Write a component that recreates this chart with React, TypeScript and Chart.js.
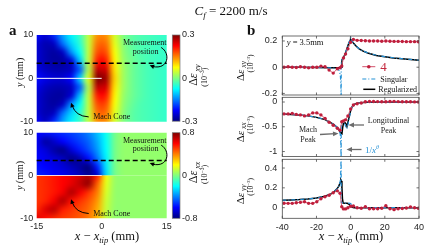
import React, { useEffect, useRef } from 'react';
import { Chart, registerables } from 'chart.js';

Chart.register(...registerables);

const W = 433;
const H = 251;
const SERIF = '"Liberation Serif", "Times New Roman", serif';
const SANS = '"Liberation Sans", Arial, sans-serif';
const TICK_FONT = { family: SANS, size: 9 };
const TICK_COLOR = '#262626';

// ================= Panel a : strain fields =================
const MAP_X = [-15, -13, -11, -9, -7, -5, -3, -1, 1, 3, 5, 7, 9, 11, 13, 15];
const XY_MAP_Y = [10, 8, 6, 4, 2, 0, -2, -4, -6, -8, -10];
const XY_MAP = [
  [-0.22, -0.25, -0.2, -0.13, -0.08, -0.04, 0.04, 0.14, 0.14, 0.05, 0.0, -0.02, -0.03, -0.035, -0.04, -0.045],
  [-0.25, -0.27, -0.26, -0.16, -0.1, -0.05, 0.04, 0.16, 0.16, 0.06, 0.005, -0.02, -0.03, -0.035, -0.04, -0.045],
  [-0.25, -0.27, -0.28, -0.26, -0.14, -0.07, 0.04, 0.18, 0.18, 0.07, 0.01, -0.015, -0.03, -0.035, -0.04, -0.045],
  [-0.25, -0.27, -0.28, -0.28, -0.25, -0.11, 0.04, 0.21, 0.21, 0.08, 0.015, -0.01, -0.025, -0.035, -0.04, -0.045],
  [-0.24, -0.26, -0.27, -0.27, -0.26, -0.17, 0.03, 0.26, 0.25, 0.09, 0.02, -0.01, -0.025, -0.035, -0.04, -0.045],
  [-0.22, -0.24, -0.25, -0.25, -0.22, -0.1, 0.06, 0.3, 0.28, 0.1, 0.02, -0.01, -0.025, -0.035, -0.04, -0.045],
  [-0.24, -0.26, -0.27, -0.27, -0.26, -0.17, 0.03, 0.26, 0.25, 0.09, 0.02, -0.01, -0.025, -0.035, -0.04, -0.045],
  [-0.25, -0.27, -0.28, -0.28, -0.25, -0.11, 0.04, 0.21, 0.21, 0.08, 0.015, -0.01, -0.025, -0.035, -0.04, -0.045],
  [-0.25, -0.27, -0.28, -0.26, -0.14, -0.07, 0.04, 0.18, 0.18, 0.07, 0.01, -0.015, -0.03, -0.035, -0.04, -0.045],
  [-0.25, -0.27, -0.26, -0.16, -0.1, -0.05, 0.04, 0.16, 0.16, 0.06, 0.005, -0.02, -0.03, -0.035, -0.04, -0.045],
  [-0.23, -0.26, -0.2, -0.13, -0.08, -0.04, 0.04, 0.14, 0.14, 0.05, 0.0, -0.02, -0.03, -0.035, -0.04, -0.045],
];
const XX_UPPER_Y = [10, 8, 6, 4, 2, 0];
const XX_UPPER = [
  [-0.6, -0.58, -0.56, -0.53, -0.5, -0.46, -0.4, -0.3, -0.18, -0.02, 0.03, 0.03, 0.03, 0.03, 0.03, 0.03],
  [-0.62, -0.74, -0.68, -0.6, -0.55, -0.5, -0.44, -0.33, -0.19, -0.02, 0.03, 0.03, 0.03, 0.03, 0.03, 0.03],
  [-0.62, -0.66, -0.74, -0.78, -0.66, -0.56, -0.48, -0.36, -0.2, -0.02, 0.03, 0.03, 0.03, 0.03, 0.03, 0.03],
  [-0.6, -0.63, -0.66, -0.7, -0.78, -0.72, -0.58, -0.42, -0.22, -0.02, 0.03, 0.03, 0.03, 0.03, 0.03, 0.03],
  [-0.58, -0.6, -0.63, -0.66, -0.7, -0.75, -0.8, -0.55, -0.24, -0.02, 0.03, 0.03, 0.03, 0.03, 0.03, 0.03],
  [-0.55, -0.57, -0.6, -0.62, -0.66, -0.7, -0.76, -0.68, -0.26, -0.02, 0.03, 0.03, 0.03, 0.03, 0.03, 0.03],
];
const XX_LOWER_Y = [0, -2, -4, -6, -8, -10];
const XX_LOWER = [
  [0.52, 0.54, 0.57, 0.6, 0.63, 0.67, 0.72, 0.55, 0.18, 0.04, 0.03, 0.03, 0.03, 0.03, 0.03, 0.03],
  [0.52, 0.54, 0.57, 0.6, 0.64, 0.7, 0.76, 0.45, 0.16, 0.04, 0.03, 0.03, 0.03, 0.03, 0.03, 0.03],
  [0.52, 0.54, 0.57, 0.62, 0.72, 0.62, 0.52, 0.4, 0.14, 0.035, 0.03, 0.03, 0.03, 0.03, 0.03, 0.03],
  [0.52, 0.55, 0.62, 0.72, 0.58, 0.52, 0.46, 0.36, 0.12, 0.035, 0.03, 0.03, 0.03, 0.03, 0.03, 0.03],
  [0.54, 0.65, 0.7, 0.56, 0.52, 0.48, 0.43, 0.33, 0.11, 0.03, 0.03, 0.03, 0.03, 0.03, 0.03, 0.03],
  [0.64, 0.58, 0.54, 0.51, 0.49, 0.46, 0.41, 0.31, 0.1, 0.03, 0.03, 0.03, 0.03, 0.03, 0.03, 0.03],
];
const MEAS_Y = 3.5;
const CRACK_X = [-15, 0];
const MAP_X_TICKS = [-15, 0, 15];
const MAP_Y_TICKS = [-10, 0, 10];
const CB_XY_TICKS = [-0.3, 0, 0.3];
const CB_XX_TICKS = [-0.8, 0, 0.8];

// ================= Panel b : line profiles =================
const B_X_TICKS = [-40, -20, 0, 20, 40];
const XY_TICKS = [-0.2, 0, 0.2];
const XX_TICKS = [-1, -0.5, 0];
const YY_TICKS = [0, 0.2, 0.4];

const RED_X = [-39, -36.6, -34.2, -31.8, -29.4, -27, -24.6, -22.2, -19.8, -17.4, -15, -12.6, -10.2, -7.8, -6.2, -5.2, -4.2, -3, -1.6, 0, 1.6, 3.8, 6.2, 8.6, 11, 13.4, 15.8, 18.2, 20.6, 23, 25.4, 27.8, 30.2, 32.6, 35, 37.4, 39.6];
const RED_XY = [0, 0.003, 0, -0.002, 0.003, 0, -0.005, 0, 0, 0.008, 0.004, -0.022, -0.045, -0.012, -0.004, 0.01, 0.07, 0.1, 0.14, 0.19, 0.212, 0.205, 0.204, 0.202, 0.2, 0.2, 0.2, 0.198, 0.2, 0.198, 0.197, 0.197, 0.196, 0.195, 0.195, 0.195, 0.194];
const RED_XX = [-0.24, -0.24, -0.23, -0.25, -0.26, -0.28, -0.26, -0.22, -0.22, -0.26, -0.33, -0.41, -0.47, -0.53, -0.57, -0.4, -0.38, -0.36, -0.28, -0.14, -0.06, -0.035, -0.02, 0.005, 0.01, 0.01, 0.008, 0.006, 0.006, 0.01, 0.012, 0.008, 0.006, 0.004, 0.004, 0.002, 0];
const RED_YY = [0.045, 0.044, 0.044, 0.05, 0.054, 0.06, 0.044, 0.044, 0.06, 0.09, 0.11, 0.125, 0.15, 0.17, 0.145, 0.01, -0.012, -0.012, 0, 0.015, 0.017, 0, -0.005, 0.01, -0.01, -0.01, -0.01, -0.005, 0.02, -0.01, -0.02, -0.01, -0.008, -0.003, 0.008, 0, -0.005];

const REG_XY_X = [-40, -30, -20, -12, -8, -6.5, -5.6, -5.1, -4.2, -3.2, -2.2, -1.3, -0.3, 0, 0.5, 1, 2, 3, 5, 7, 10, 15, 20, 25, 30, 35, 40];
const REG_XY = [0, 0, -0.002, -0.004, -0.005, -0.003, 0, 0.055, 0.075, 0.1, 0.14, 0.175, 0.205, 0.212, 0.205, 0.195, 0.178, 0.163, 0.14, 0.124, 0.108, 0.09, 0.08, 0.071, 0.064, 0.058, 0.053];
const SING_XY_X = [-40, -30, -20, -12, -9, -7.5, -6.8, -6.3, -6, -5.8, -5.65, -5.56, -5.5, -5.1, -4.2, -3.2, -2.2, -1.3, -0.3, 0, 0.5, 1, 2, 3, 5, 7, 10, 15, 20, 25, 30, 35, 40];
const SING_XY = [0, 0, -0.002, -0.005, -0.008, -0.014, -0.025, -0.045, -0.07, -0.11, -0.17, -0.35, 0.04, 0.055, 0.075, 0.1, 0.14, 0.178, 0.212, 0.228, 0.21, 0.197, 0.179, 0.164, 0.141, 0.125, 0.109, 0.091, 0.081, 0.072, 0.065, 0.059, 0.054];

const REG_XX_X = [-40, -35, -30, -25, -20, -15, -12, -10, -8, -7, -6.2, -5.6, -5.1, -4.6, -4.2, -3.2, -2.5, -2.2, -1.8, -1.3, -0.5, 0.1, 0.8, 1.7, 2.6, 3.6, 5, 7.5, 10, 15, 20, 30, 40];
const REG_XX = [-0.24, -0.25, -0.26, -0.28, -0.31, -0.355, -0.41, -0.45, -0.51, -0.55, -0.6, -0.63, -0.64, -0.5, -0.43, -0.42, -0.45, -0.47, -0.44, -0.36, -0.25, -0.16, -0.1, -0.06, -0.04, -0.03, -0.02, -0.01, -0.005, 0, 0, 0, 0];
const SING_XX_X = [-40, -35, -30, -25, -20, -15, -12, -10, -8, -7, -6.5, -6.1, -5.85, -5.7, -5.6, -5.5, -5.1, -4.6, -4.2, -3.5, -3, -2.6, -2.2, -1.8, -1.3, -0.5, 0.1, 0.8, 1.7, 2.6, 3.6, 5, 7.5, 10, 15, 20, 30, 40];
const SING_XX = [-0.24, -0.25, -0.26, -0.28, -0.31, -0.355, -0.41, -0.45, -0.51, -0.55, -0.59, -0.65, -0.74, -0.88, -1.3, -0.44, -0.43, -0.42, -0.42, -0.44, -0.48, -0.52, -0.54, -0.5, -0.4, -0.27, -0.17, -0.1, -0.06, -0.04, -0.03, -0.02, -0.01, -0.005, 0, 0, 0, 0];

const REG_YY_X = [-40, -35, -30, -25, -20, -15, -12, -10, -8, -7, -6.2, -5.7, -5.4, -5.1, -4.8, -4.4, -3, -2, -1, 0, 1, 2, 3, 5, 10, 20, 30, 40];
const REG_YY = [0.075, 0.078, 0.082, 0.088, 0.097, 0.115, 0.135, 0.155, 0.19, 0.215, 0.25, 0.28, 0.27, 0.2, 0.09, 0.048, 0.046, 0.045, 0.035, 0.015, 0.005, 0, 0, 0, 0, 0, 0, 0];
const SING_YY_X = [-40, -35, -30, -25, -20, -15, -12, -10, -8, -7, -6.5, -6.1, -5.85, -5.7, -5.6, -5.5, -5.1, -4.4, -3, -2, -1, 0, 0.6, 1.2, 2, 3, 5, 10, 20, 30, 40];
const SING_YY = [0.075, 0.078, 0.082, 0.088, 0.097, 0.115, 0.135, 0.155, 0.19, 0.215, 0.235, 0.27, 0.33, 0.42, 0.7, 0.05, 0.05, 0.048, 0.047, 0.047, 0.046, 0.042, 0.03, 0.012, 0.003, 0, 0, 0, 0, 0, 0];

const RED_DOT = '#bf1e3c';
const RED_LINE = '#d2506a';
const BLUE = '#2391d6';
const ARROW_GRAY = '#6b6b6b';

// ================= helpers =================
function jet(t: number): [number, number, number] {
  const c = (v: number) => Math.max(0, Math.min(1, v));
  return [c(1.5 - Math.abs(4 * t - 3)), c(1.5 - Math.abs(4 * t - 2)), c(1.5 - Math.abs(4 * t - 1))];
}
function jetCss(t: number) {
  const [r, g, b] = jet(t);
  return `rgb(${Math.round(r * 255)},${Math.round(g * 255)},${Math.round(b * 255)})`;
}

type Part = { t: string; f: string; dy?: number; c?: string };
function rich(ctx: any, parts: Part[], x: number, y: number, align: string = 'left', rot = 0, color = '#111') {
  ctx.save();
  ctx.translate(x, y);
  if (rot) ctx.rotate(rot);
  ctx.textBaseline = 'alphabetic';
  ctx.textAlign = 'left';
  let total = 0;
  const widths = parts.map((p) => {
    ctx.font = p.f;
    const w = ctx.measureText(p.t).width;
    total += w;
    return w;
  });
  let cx = align === 'left' ? 0 : align === 'center' ? -total / 2 : -total;
  parts.forEach((p, i) => {
    ctx.font = p.f;
    ctx.fillStyle = p.c || color;
    ctx.fillText(p.t, cx, p.dy || 0);
    cx += widths[i];
  });
  ctx.restore();
}

function head(ctx: any, tipX: number, tipY: number, fromX: number, fromY: number, len = 4.5, half = 2) {
  const a = Math.atan2(tipY - fromY, tipX - fromX);
  ctx.beginPath();
  ctx.moveTo(tipX, tipY);
  ctx.lineTo(tipX - len * Math.cos(a) - half * Math.sin(a), tipY - len * Math.sin(a) + half * Math.cos(a));
  ctx.lineTo(tipX - len * Math.cos(a) + half * Math.sin(a), tipY - len * Math.sin(a) - half * Math.cos(a));
  ctx.closePath();
  ctx.fill();
}

function straightArrow(ctx: any, x1: number, y1: number, x2: number, y2: number, color: string) {
  ctx.save();
  ctx.strokeStyle = color;
  ctx.fillStyle = color;
  ctx.lineWidth = 1.3;
  const a = Math.atan2(y2 - y1, x2 - x1);
  ctx.beginPath();
  ctx.moveTo(x1, y1);
  ctx.lineTo(x2 - 3 * Math.cos(a), y2 - 3 * Math.sin(a));
  ctx.stroke();
  head(ctx, x2, y2, x1, y1, 5.5, 2.4);
  ctx.restore();
}

function drawGrid(chart: any, xs: number[], ys: number[], grid: number[][], vmin: number, vmax: number, yTop: number, yBot: number) {
  const { ctx, chartArea: ca, scales } = chart;
  const sx = scales.x;
  const sy = scales.y;
  const nx = xs.length;
  const ny = ys.length;
  const off = document.createElement('canvas');
  off.width = nx;
  off.height = ny;
  const octx = off.getContext('2d') as CanvasRenderingContext2D;
  const img = octx.createImageData(nx, ny);
  for (let j = 0; j < ny; j++) {
    for (let i = 0; i < nx; i++) {
      const [r, g, b] = jet((grid[j][i] - vmin) / (vmax - vmin));
      const k = (j * nx + i) * 4;
      img.data[k] = Math.round(r * 255);
      img.data[k + 1] = Math.round(g * 255);
      img.data[k + 2] = Math.round(b * 255);
      img.data[k + 3] = 255;
    }
  }
  octx.putImageData(img, 0, 0);
  const dx = xs[1] - xs[0];
  const dy = ys[0] - ys[1];
  const L = sx.getPixelForValue(xs[0] - dx / 2);
  const R = sx.getPixelForValue(xs[nx - 1] + dx / 2);
  const T = sy.getPixelForValue(ys[0] + dy / 2);
  const B = sy.getPixelForValue(ys[ny - 1] - dy / 2);
  const cT = sy.getPixelForValue(yTop);
  const cB = sy.getPixelForValue(yBot);
  ctx.save();
  ctx.beginPath();
  ctx.rect(ca.left, cT, ca.right - ca.left, cB - cT);
  ctx.clip();
  ctx.imageSmoothingEnabled = true;
  ctx.imageSmoothingQuality = 'high';
  ctx.drawImage(off, L, T, R - L, B - T);
  ctx.restore();
}

const hiddenGrid = { display: false, drawTicks: false };
const tickSetter = (vals: number[]) => (s: any) => {
  s.ticks = vals.map((v) => ({ value: v }));
};
const tickOpts = (pad: number) => ({
  font: TICK_FONT,
  color: TICK_COLOR,
  padding: pad,
  autoSkip: false,
  maxRotation: 0,
  callback: (v: any) => String(v),
});

const xTitleParts = (): Part[] => [
  { t: 'x', f: `italic 12.5px ${SERIF}` },
  { t: ' \u2212 ', f: `12.5px ${SERIF}` },
  { t: 'x', f: `italic 12.5px ${SERIF}` },
  { t: 'tip', f: `italic 8.5px ${SERIF}`, dy: 3 },
  { t: ' (mm)', f: `12.5px ${SERIF}` },
];

// ================= Panel a charts =================
function mapPlugin(kind: string) {
  return {
    id: 'map_' + kind,
    beforeDatasetsDraw(chart: any) {
      if (kind === 'xy') {
        drawGrid(chart, MAP_X, XY_MAP_Y, XY_MAP, -0.3, 0.3, 10, -10);
      } else {
        drawGrid(chart, MAP_X, XX_UPPER_Y, XX_UPPER, -0.8, 0.8, 10, 0);
        drawGrid(chart, MAP_X, XX_LOWER_Y, XX_LOWER, -0.8, 0.8, 0, -10);
      }
    },
    afterDraw(chart: any) {
      const { ctx, chartArea: ca, scales } = chart;
      const sx = scales.x;
      const sy = scales.y;
      ctx.save();
      const y0 = sy.getPixelForValue(0);
      ctx.strokeStyle = kind === 'xy' ? '#ffffff' : 'rgba(255,235,235,0.9)';
      ctx.lineWidth = 1;
      ctx.beginPath();
      ctx.moveTo(sx.getPixelForValue(CRACK_X[0]), y0);
      ctx.lineTo(sx.getPixelForValue(CRACK_X[1]), y0);
      ctx.stroke();
      const ym = sy.getPixelForValue(MEAS_Y);
      ctx.strokeStyle = '#000';
      ctx.lineWidth = 1.5;
      ctx.setLineDash([5, 3]);
      ctx.beginPath();
      ctx.moveTo(ca.left, ym);
      ctx.lineTo(ca.right, ym);
      ctx.stroke();
      ctx.setLineDash([]);
      const sf = `8px ${SERIF}`;
      rich(ctx, [{ t: 'Measurement', f: sf }], ca.right - 22, ca.top + 10, 'center');
      rich(ctx, [{ t: 'position', f: sf }], ca.right - 21, ca.top + 18.5, 'center');
      ctx.strokeStyle = '#000';
      ctx.fillStyle = '#000';
      ctx.lineWidth = 1;
      ctx.beginPath();
      ctx.moveTo(ca.right - 5.5, ca.top + 12.5);
      ctx.bezierCurveTo(ca.right + 4, ca.top + 18, ca.right + 2, ca.top + 35, ca.right - 14, ca.top + 31.5);
      ctx.stroke();
      head(ctx, ca.right - 17, ca.top + 30.3, ca.right - 11, ca.top + 32.5, 4.5, 2.2);
      rich(ctx, [{ t: 'Mach Cone', f: sf }], ca.left + 75, ca.bottom - 2.3, 'center');
      ctx.beginPath();
      ctx.moveTo(ca.left + 52, ca.bottom - 4.8);
      ctx.quadraticCurveTo(ca.left + 39, ca.bottom - 5.5, ca.left + 35.5, ca.bottom - 16);
      ctx.stroke();
      head(ctx, ca.left + 34.3, ca.bottom - 19, ca.left + 36.5, ca.bottom - 13, 4.5, 2.2);
      const yc = (ca.top + ca.bottom) / 2 - (kind === 'xy' ? 6 : 0);
      rich(ctx, [{ t: 'y', f: `italic 10px ${SERIF}` }, { t: ' (mm)', f: `10px ${SERIF}` }], 22.5, yc, 'center', -Math.PI / 2);
      if (kind === 'xy') {
        rich(ctx, [{ t: 'a', f: `bold 15px ${SERIF}` }], 9, 35, 'left');
        rich(
          ctx,
          [
            { t: 'C', f: `italic 13px ${SERIF}` },
            { t: 'f', f: `italic 9px ${SERIF}`, dy: 3 },
            { t: ' = 2200 m/s', f: `13px ${SERIF}` },
          ],
          231,
          15,
          'center'
        );
      } else {
        rich(ctx, xTitleParts(), 107, 240, 'center');
      }
      ctx.restore();
    },
  };
}

function makeMap(kind: string) {
  const top = kind === 'xy' ? 35 : 132.7;
  const bottom = kind === 'xy' ? 121.7 : 218.3;
  const left = 36.7;
  const right = 166.7;
  const yW = 36.7;
  const xH = kind === 'xy' ? 0 : 14;
  return {
    type: 'scatter',
    data: { datasets: [] },
    options: {
      responsive: false,
      animation: false,
      devicePixelRatio: 1,
      layout: { padding: { left: left - yW, top, right: W - right, bottom: H - bottom - xH } },
      plugins: { legend: { display: false }, tooltip: { enabled: false } },
      scales: {
        x: {
          type: 'linear',
          min: -15,
          max: 15,
          display: kind === 'xx',
          afterFit: (s: any) => {
            s.height = xH;
          },
          afterBuildTicks: tickSetter(MAP_X_TICKS),
          grid: hiddenGrid,
          border: { display: false },
          ticks: tickOpts(2.5),
        },
        y: {
          type: 'linear',
          min: -10,
          max: 10,
          afterFit: (s: any) => {
            s.width = yW;
          },
          afterBuildTicks: tickSetter(MAP_Y_TICKS),
          grid: hiddenGrid,
          border: { display: false },
          ticks: tickOpts(3.5),
        },
      },
    },
    plugins: [mapPlugin(kind)],
  };
}

function makeBar(kind: string) {
  const top = kind === 'xy' ? 35 : 132.7;
  const bottom = kind === 'xy' ? 121.2 : 218.3;
  const left = 172.3;
  const right = 180;
  const yW = 25;
  const ticks = kind === 'xy' ? CB_XY_TICKS : CB_XX_TICKS;
  return {
    type: 'scatter',
    data: { datasets: [] },
    options: {
      responsive: false,
      animation: false,
      devicePixelRatio: 1,
      layout: { padding: { left, top, right: W - right - yW, bottom: H - bottom } },
      plugins: { legend: { display: false }, tooltip: { enabled: false } },
      scales: {
        x: { type: 'linear', min: 0, max: 1, display: false },
        y: {
          type: 'linear',
          position: 'right',
          min: ticks[0],
          max: ticks[2],
          afterFit: (s: any) => {
            s.width = yW;
          },
          afterBuildTicks: tickSetter(ticks),
          grid: hiddenGrid,
          border: { display: false },
          ticks: tickOpts(2),
        },
      },
    },
    plugins: [
      {
        id: 'cbar_' + kind,
        beforeDatasetsDraw(chart: any) {
          const { ctx, chartArea: ca, scales } = chart;
          const sy = scales.y;
          const yb = sy.getPixelForValue(ticks[0]);
          const yt = sy.getPixelForValue(ticks[2]);
          const g = ctx.createLinearGradient(0, yb, 0, yt);
          for (let i = 0; i <= 32; i++) g.addColorStop(i / 32, jetCss(i / 32));
          ctx.save();
          ctx.fillStyle = g;
          ctx.fillRect(ca.left, yt, ca.right - ca.left, yb - yt);
          ctx.strokeStyle = '#777';
          ctx.lineWidth = 0.7;
          ctx.strokeRect(ca.left, yt, ca.right - ca.left, yb - yt);
          ctx.restore();
        },
        afterDraw(chart: any) {
          const { ctx, chartArea: ca } = chart;
          const yc = (ca.top + ca.bottom) / 2;
          const sub = kind === 'xy' ? 'xy' : 'xx';
          rich(
            ctx,
            [
              { t: '\u0394', f: `12px ${SERIF}` },
              { t: '\u03b5', f: `italic 12px ${SERIF}` },
              { t: ' ' + sub, f: `italic 8px ${SERIF}`, dy: 3 },
            ],
            197,
            yc - 3,
            'center',
            -Math.PI / 2
          );
          rich(
            ctx,
            [
              { t: '(10', f: `8px ${SERIF}` },
              { t: '\u22123', f: `5.5px ${SERIF}`, dy: -3.5 },
              { t: ')', f: `8px ${SERIF}` },
            ],
            207,
            yc - 1,
            'center',
            -Math.PI / 2
          );
        },
      },
    ],
  };
}

// ================= Panel b charts =================
const pts = (xs: number[], ys: number[]) => xs.map((x, i) => ({ x, y: ys[i] }));
const redDs = (ys: number[]) => ({
  label: '4',
  data: pts(RED_X, ys),
  showLine: true,
  borderColor: RED_LINE,
  borderWidth: 0.9,
  pointRadius: 1.7,
  pointBackgroundColor: RED_DOT,
  pointBorderWidth: 0,
  order: 0,
  clip: 0,
});
const singDs = (xs: number[], ys: number[]) => ({
  label: 'Singular',
  data: pts(xs, ys),
  showLine: true,
  borderColor: BLUE,
  borderWidth: 1.2,
  borderDash: [4, 2, 1, 2],
  pointRadius: 0,
  order: 1,
  clip: 0,
});
const regDs = (xs: number[], ys: number[]) => ({
  label: 'Regularized',
  data: pts(xs, ys),
  showLine: true,
  borderColor: '#000',
  borderWidth: 1.5,
  pointRadius: 0,
  order: 2,
  clip: 0,
});

function frame(chart: any) {
  const { ctx, chartArea: ca, scales } = chart;
  const sx = scales.x;
  const sy = scales.y;
  ctx.save();
  ctx.strokeStyle = '#4a4a4a';
  ctx.lineWidth = 0.8;
  ctx.strokeRect(ca.left, ca.top, ca.right - ca.left, ca.bottom - ca.top);
  ctx.beginPath();
  for (const v of B_X_TICKS) {
    const px = sx.getPixelForValue(v);
    ctx.moveTo(px, ca.bottom);
    ctx.lineTo(px, ca.bottom - 2.5);
    ctx.moveTo(px, ca.top);
    ctx.lineTo(px, ca.top + 2.5);
  }
  for (const t of sy.ticks) {
    const py = sy.getPixelForValue(t.value);
    ctx.moveTo(ca.left, py);
    ctx.lineTo(ca.left + 2.5, py);
    ctx.moveTo(ca.right, py);
    ctx.lineTo(ca.right - 2.5, py);
  }
  ctx.stroke();
  ctx.restore();
}

function yLabel(ctx: any, ca: any, sub: string) {
  const yc = (ca.top + ca.bottom) / 2;
  rich(
    ctx,
    [
      { t: '\u0394', f: `11px ${SERIF}` },
      { t: '\u03b5', f: `italic 11px ${SERIF}` },
      { t: ' ' + sub, f: `italic 7.5px ${SERIF}`, dy: 2.5 },
    ],
    243.5,
    yc + 5.5,
    'center',
    -Math.PI / 2
  );
  rich(
    ctx,
    [
      { t: '(10', f: `7.5px ${SERIF}` },
      { t: '\u22123', f: `5px ${SERIF}`, dy: -3 },
      { t: ')', f: `7.5px ${SERIF}` },
    ],
    252.5,
    yc - 2,
    'center',
    -Math.PI / 2
  );
}

function makeLine(cfg: any) {
  const left = 282.3;
  const right = 419;
  const yW = 30;
  const xH = cfg.showX ? 14 : 0;
  return {
    type: 'scatter',
    data: { datasets: cfg.datasets },
    options: {
      responsive: false,
      animation: false,
      devicePixelRatio: 1,
      layout: { padding: { left: left - yW, top: cfg.top, right: W - right, bottom: H - cfg.bottom - xH } },
      plugins: { legend: { display: false }, tooltip: { enabled: false } },
      elements: { line: { tension: 0 } },
      scales: {
        x: {
          type: 'linear',
          min: -40,
          max: 40,
          display: cfg.showX,
          afterFit: (s: any) => {
            s.height = xH;
          },
          afterBuildTicks: tickSetter(B_X_TICKS),
          grid: hiddenGrid,
          border: { display: false },
          ticks: tickOpts(3.5),
        },
        y: {
          type: 'linear',
          min: cfg.yMin,
          max: cfg.yMax,
          afterFit: (s: any) => {
            s.width = yW;
          },
          afterBuildTicks: tickSetter(cfg.yTicks),
          grid: hiddenGrid,
          border: { display: false },
          ticks: tickOpts(5),
        },
      },
    },
    plugins: [
      {
        id: 'bplot',
        afterDraw(chart: any) {
          frame(chart);
          const { ctx, chartArea: ca } = chart;
          yLabel(ctx, ca, cfg.sub);
          cfg.draw(ctx, ca);
        },
      },
    ],
  };
}

const sf8 = `8px ${SERIF}`;

function makeLineXY() {
  return makeLine({
    top: 36,
    bottom: 95,
    yMin: -0.212,
    yMax: 0.238,
    yTicks: XY_TICKS,
    showX: false,
    sub: 'xy',
    datasets: [redDs(RED_XY), singDs(SING_XY_X, SING_XY), regDs(REG_XY_X, REG_XY)],
    draw(ctx: any, ca: any) {
      rich(ctx, [{ t: 'b', f: `bold 15px ${SERIF}` }], 247, 35, 'left');
      rich(ctx, [{ t: 'y', f: `italic 8.5px ${SERIF}` }, { t: ' = 3.5mm', f: `8.5px ${SERIF}` }], ca.left + 4.5, ca.top + 8.5, 'left');
      const lx0 = ca.left + 80;
      const lx1 = ca.left + 93;
      ctx.save();
      ctx.strokeStyle = RED_LINE;
      ctx.lineWidth = 1;
      ctx.beginPath();
      ctx.moveTo(lx0, ca.top + 30.7);
      ctx.lineTo(lx1, ca.top + 30.7);
      ctx.stroke();
      ctx.fillStyle = RED_DOT;
      ctx.beginPath();
      ctx.arc((lx0 + lx1) / 2, ca.top + 30.7, 1.8, 0, Math.PI * 2);
      ctx.fill();
      ctx.strokeStyle = BLUE;
      ctx.lineWidth = 1.2;
      ctx.setLineDash([4, 2, 1, 2]);
      ctx.beginPath();
      ctx.moveTo(lx0, ca.top + 43);
      ctx.lineTo(lx1, ca.top + 43);
      ctx.stroke();
      ctx.setLineDash([]);
      ctx.strokeStyle = '#000';
      ctx.lineWidth = 1.5;
      ctx.beginPath();
      ctx.moveTo(lx0 + 1, ca.top + 53.3);
      ctx.lineTo(lx1, ca.top + 53.3);
      ctx.stroke();
      ctx.restore();
      rich(ctx, [{ t: '4', f: `13px ${SERIF}`, c: '#c4283e' }], ca.left + 98, ca.top + 35, 'left');
      rich(ctx, [{ t: 'Singular', f: sf8 }], ca.left + 98, ca.top + 45.5, 'left');
      rich(ctx, [{ t: 'Regularized', f: sf8 }], ca.left + 96, ca.top + 56, 'left');
    },
  });
}

function makeLineXX() {
  return makeLine({
    top: 97.3,
    bottom: 156.5,
    yMin: -1.1,
    yMax: 0.095,
    yTicks: XX_TICKS,
    showX: false,
    sub: 'xx',
    datasets: [redDs(RED_XX), singDs(SING_XX_X, SING_XX), regDs(REG_XX_X, REG_XX)],
    draw(ctx: any) {
      rich(ctx, [{ t: 'Mach', f: sf8 }], 308, 131.5, 'center', 0, '#222');
      rich(ctx, [{ t: 'Peak', f: sf8 }], 308, 141.5, 'center', 0, '#222');
      straightArrow(ctx, 320, 134.5, 338.5, 133.5, ARROW_GRAY);
      rich(ctx, [{ t: 'Longitudinal', f: sf8 }], 388.5, 123, 'center', 0, '#222');
      rich(ctx, [{ t: 'Peak', f: sf8 }], 388.5, 132.5, 'center', 0, '#222');
      straightArrow(ctx, 364, 125, 348.5, 125, ARROW_GRAY);
      rich(
        ctx,
        [
          { t: '1/', f: `9px ${SERIF}`, c: BLUE },
          { t: 'x', f: `italic 9px ${SERIF}`, c: BLUE },
          { t: '\u03b8', f: `italic 6px ${SERIF}`, dy: -3.5, c: BLUE },
        ],
        365,
        152.5,
        'left'
      );
      straightArrow(ctx, 361.5, 149.5, 346.5, 149.5, ARROW_GRAY);
    },
  });
}

function makeLineYY() {
  return makeLine({
    top: 159.3,
    bottom: 218.3,
    yMin: -0.107,
    yMax: 0.488,
    yTicks: YY_TICKS,
    showX: true,
    sub: 'yy',
    datasets: [redDs(RED_YY), singDs(SING_YY_X, SING_YY), regDs(REG_YY_X, REG_YY)],
    draw(ctx: any) {
      rich(ctx, xTitleParts(), 351, 240, 'center');
    },
  });
}

function ChartCanvas({ make }: { make: () => any }) {
  const ref = useRef<HTMLCanvasElement>(null);
  useEffect(() => {
    const chart = new Chart(ref.current as HTMLCanvasElement, make());
    return () => chart.destroy();
  }, []);
  return (
    <canvas
      ref={ref}
      width={W}
      height={H}
      style={{ position: 'absolute', left: 0, top: 0, width: W, height: H }}
    />
  );
}

export default function App() {
  return (
    <div style={{ position: 'absolute', left: 0, top: 0, width: W, height: H, background: '#fff', overflow: 'hidden' }}>
      <ChartCanvas make={() => makeMap('xy')} />
      <ChartCanvas make={() => makeMap('xx')} />
      <ChartCanvas make={() => makeBar('xy')} />
      <ChartCanvas make={() => makeBar('xx')} />
      <ChartCanvas make={makeLineXY} />
      <ChartCanvas make={makeLineXX} />
      <ChartCanvas make={makeLineYY} />
    </div>
  );
}
